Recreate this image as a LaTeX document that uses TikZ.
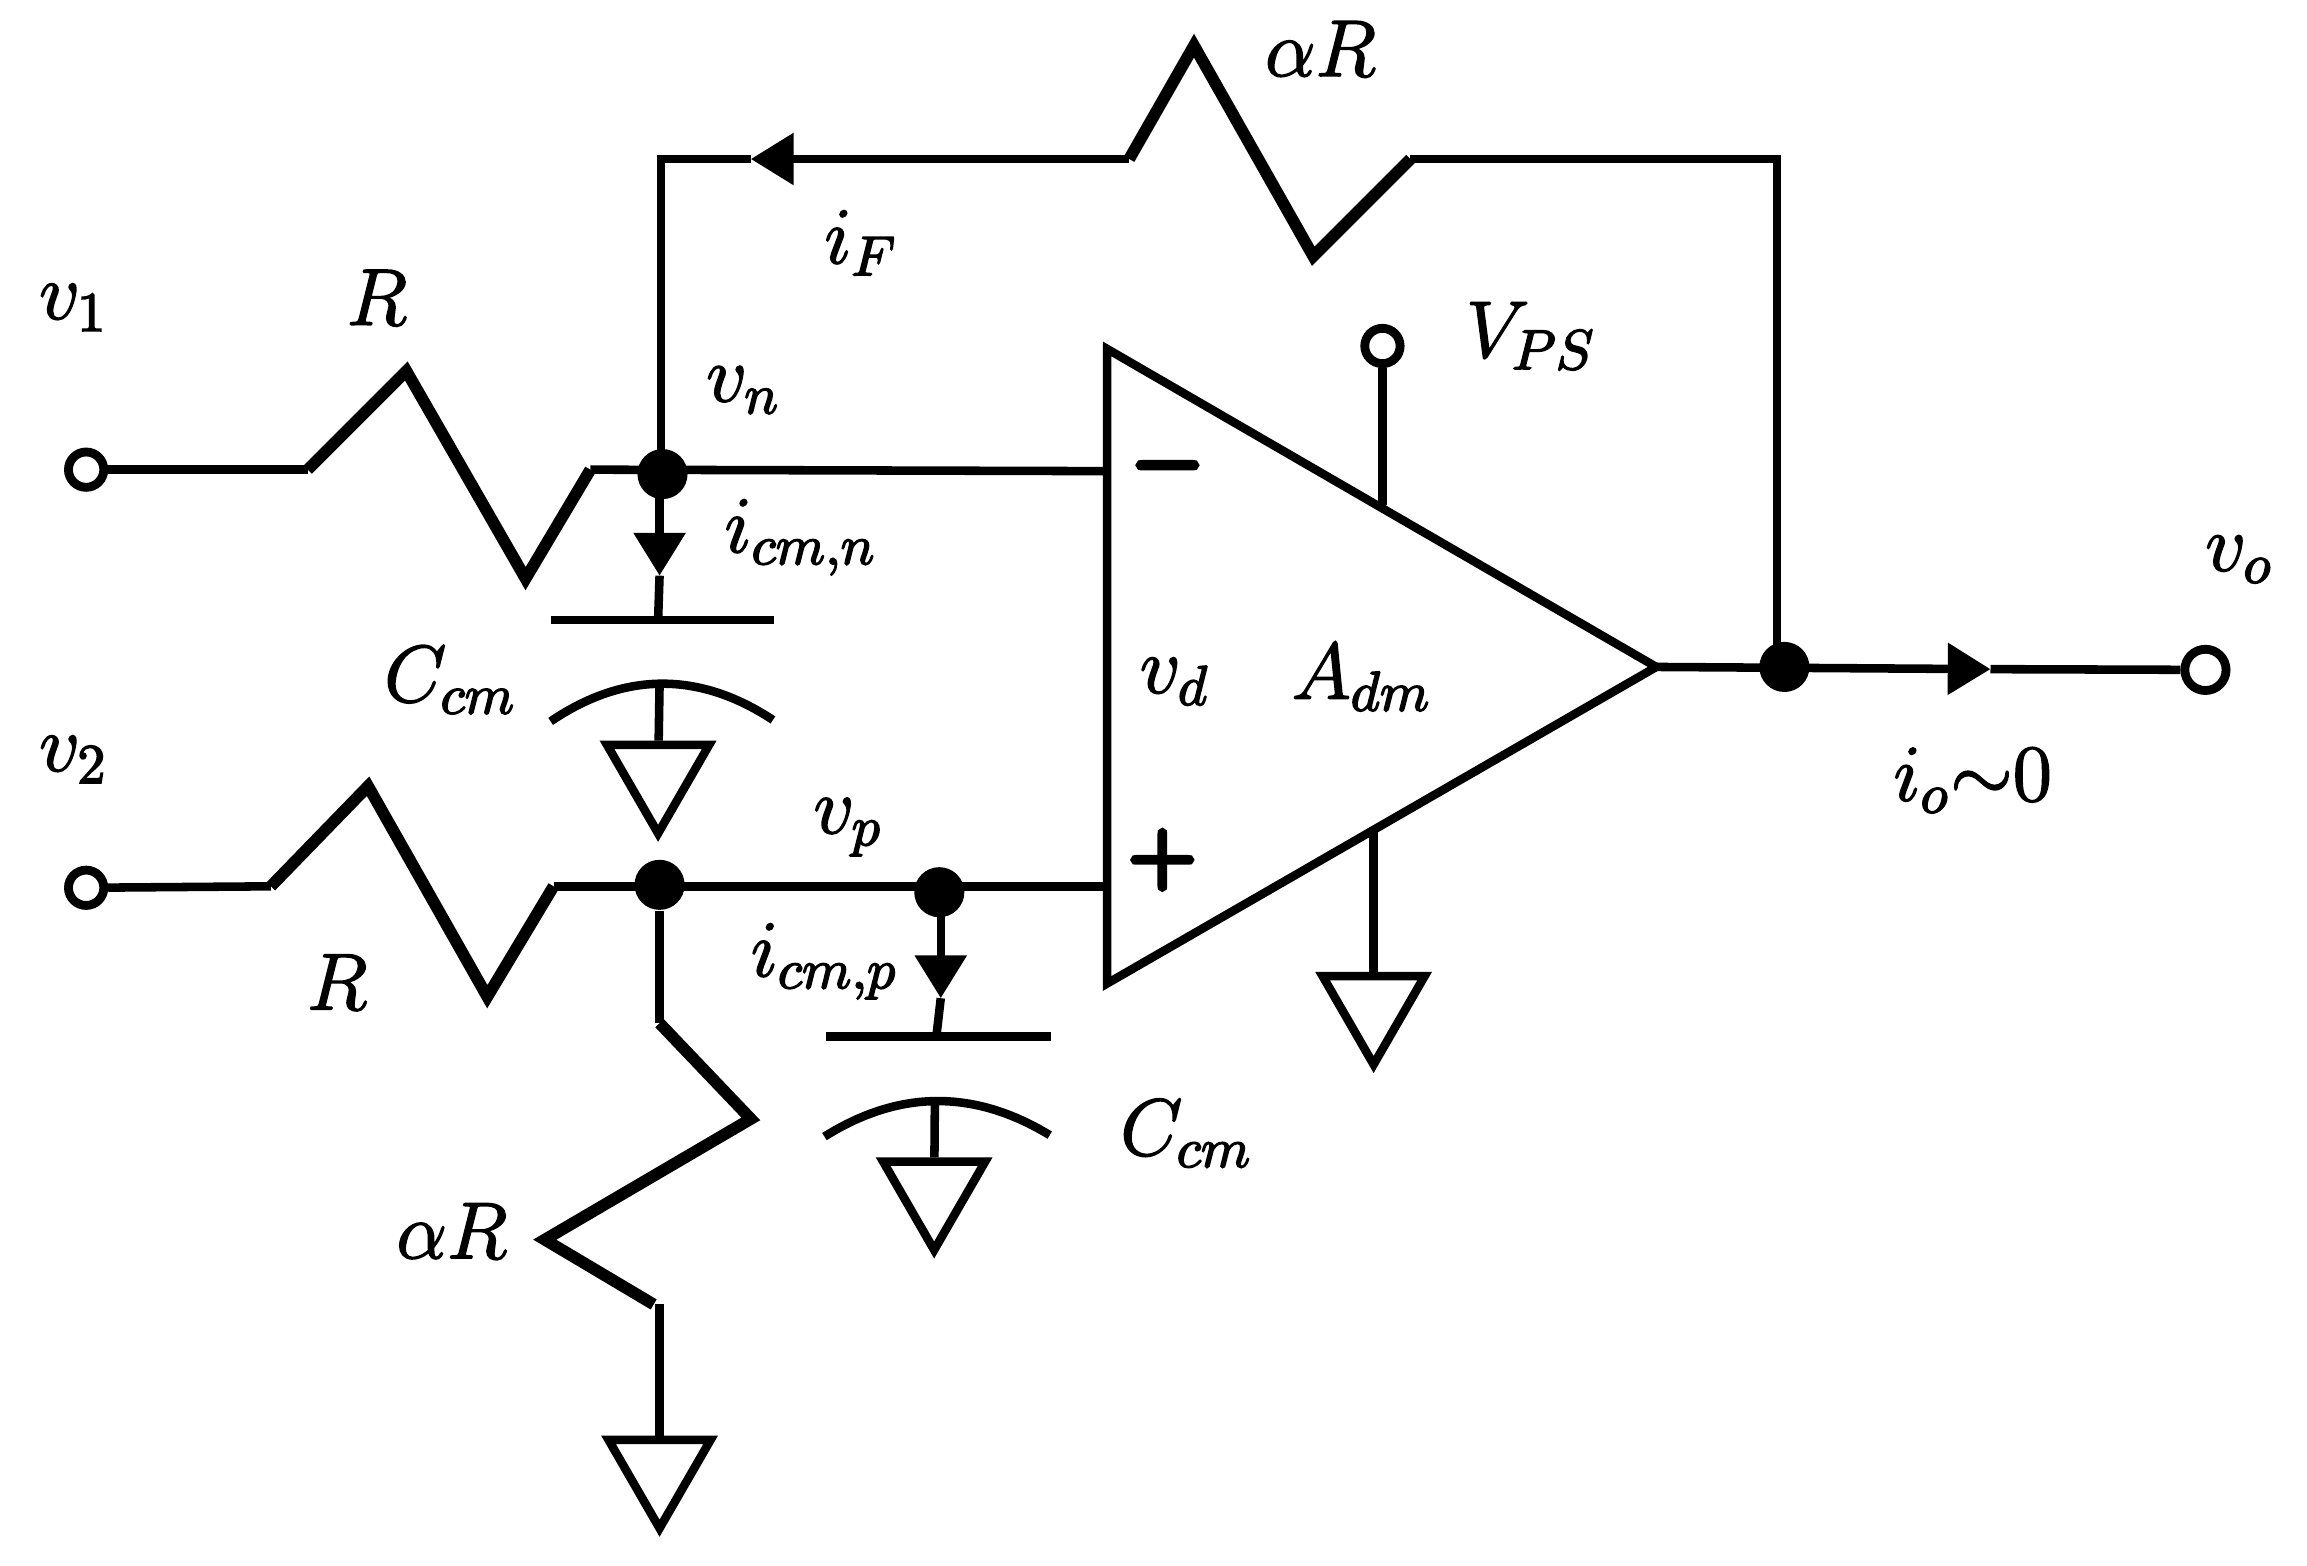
\RequirePackage{fix-cm}
\documentclass[tikz,border=0pt]{standalone}
\usetikzlibrary{shapes.geometric, arrows.meta}
\DeclareSymbolFont{boldsy}{OMS}{cmsy}{b}{n}
\DeclareSymbolFont{boldrm}{OT1}{cmr}{bx}{n}
\DeclareMathSymbol{\bminus}{\mathbin}{boldsy}{"00}
\DeclareMathSymbol{\bplus}{\mathbin}{boldrm}{`+}

\begin{document}
\begin{tikzpicture}[
  x=0.01cm, y=-0.01cm,
  wire/.style={line width=0.058cm, line join=miter},
  res/.style={line width=0.08cm, line join=miter},
  arrow/.style={wire, -{Triangle[length=0.29cm, width=0.34cm]}},
  term/.style={circle, draw, fill=white, line width=0.06cm, minimum size=0.24cm, inner sep=0pt},
  dot/.style={circle, fill=black, minimum size=0.34cm, inner sep=0pt},
  gnd/.style={regular polygon, regular polygon sides=3, shape border rotate=180, draw, line width=0.058cm, minimum size=0.8cm, inner sep=0pt},
  heavy/.style={execute at begin node={\special{pdf:code q 2 Tr #1 w}}, execute at end node={\special{pdf:code Q}}},
  lab/.style={font=\fontsize{15.5}{18}\selectfont, inner sep=0pt, heavy=0.3},
  sign/.style={inner sep=0pt, heavy=1.05}
]
\useasboundingbox (0,0) rectangle (1567,1063);

% Terminals and junctions
\node[term] (in1) at (58.5,319) {};
\node[term] (in2) at (58.5,603) {};
\node[term, minimum size=0.28cm] (out) at (1498,455) {};
\node[term] (vps) at (939,235) {};
\node[dot] (nodeN) at (450,322) {};
\node[dot] (nodeM) at (448,601) {};
\node[dot] (nodeP) at (638,606) {};
\node[dot] (nodeO) at (1212,453) {};

% Grounds
\node[gnd] (gndN) at (447,526) {};
\node[gnd] (gndP) at (634.5,809) {};
\node[gnd] (gndA) at (933,683) {};
\node[gnd] (gndR) at (448,998) {};

% Op amp
\coordinate (ampTop) at (752,237);
\coordinate (ampTip) at (1125,453);
\coordinate (ampBot) at (752,668);
\coordinate (ampN) at (752,320);
\coordinate (ampP) at (752,602);
\coordinate (ampS) at (939,343);
\coordinate (ampG) at (933,565);
\draw[wire] (ampTop) -- (ampTip) -- (ampBot) -- cycle;

% Input resistors
\coordinate (r1a) at (209,319);
\coordinate (r1b) at (401,319);
\coordinate (r2a) at (184,602);
\coordinate (r2b) at (376,602);
\draw[wire] (in1) -- (r1a);
\draw[res] (r1a) -- (276,252) -- (357,393) -- (r1b);
\draw[wire] (r1b) -- (ampN);
\draw[wire] (in2) -- (r2a);
\draw[res] (r2a) -- (250,534) -- (331,677) -- (r2b);
\draw[wire] (r2b) -- (ampP);

% Feedback
\coordinate (fbL) at (449,108);
\coordinate (fbHead) at (510,108);
\coordinate (fbA) at (767,108);
\coordinate (fbB) at (958,108);
\coordinate (fbR) at (1207,108);
\coordinate (fbO) at (1207,453);
\draw[wire] (fbL |- nodeN) -- (fbL) -- (fbHead);
\draw[arrow] (fbA) -- (fbHead);
\draw[res] (fbA) -- (811,31) -- (892,174) -- (fbB);
\draw[wire] (fbB) -- (fbR) -- (fbO);

% Output
\coordinate (outHead) at (1352,454.5);
\draw[arrow] (ampTip) -- (outHead);
\draw[wire] (outHead) -- (out);
\draw[wire] (vps) -- (ampS);
\draw[wire] (ampG) -- (gndA);

% Lower divider
\coordinate (r3a) at (448,695);
\coordinate (r3b) at (444,886);
\coordinate (r3c) at (448,886);
\draw[wire] (nodeM) -- (r3a);
\draw[res] (r3a) -- (510,760) -- (370,842) -- (r3b);
\draw[wire] (r3c) -- (gndR);

% Capacitors
\coordinate (capNt) at (448,330);
\coordinate (capNh) at (448,391);
\coordinate (capNm) at (447,421);
\coordinate (capNa) at (374,421);
\coordinate (capNb) at (526,421);
\coordinate (arcNa) at (374,490);
\coordinate (arcNb) at (525,489);
\coordinate (arcNm) at (448,465);
\draw[arrow] (capNt) -- (capNh);
\draw[wire] (capNh) -- (capNm);
\draw[wire] (capNa) -- (capNb);
\draw[wire] (arcNa) .. controls (424,456) and (475,456) .. (arcNb);
\draw[wire] (arcNm) -- (gndN);
\coordinate (capPt) at (639,612);
\coordinate (capPh) at (639,678);
\coordinate (capPm) at (636,704);
\coordinate (capPa) at (561,704);
\coordinate (capPb) at (714,704);
\coordinate (arcPa) at (560,772);
\coordinate (arcPb) at (713,771);
\coordinate (arcPm) at (635,748);
\draw[arrow] (capPt) -- (capPh);
\draw[wire] (capPh) -- (capPm);
\draw[wire] (capPa) -- (capPb);
\draw[wire] (arcPa) .. controls (611,740) and (662,740) .. (arcPb);
\draw[wire] (arcPm) -- (gndP);

% Labels
\node[lab] (lv1) at (50,209) {$v_1$};
\node[lab] (lv2) at (50,516) {$v_2$};
\node[lab] (lr1) at (256,202) {$R$};
\node[lab] (lr2) at (229,667) {$R$};
\node[lab] (lvn) at (505,265) {$v_n$};
\node[lab] (lvp) at (576,562) {$v_p$};
\node[lab] (lif) at (585,165) {$i_F$};
\node[lab] (lar) at (897,33) {$\alpha R$};
\node[lab] (lar2) at (307,836) {$\alpha R$};
\node[lab] (lvps) at (1040,228) {$V_{PS}$};
\node[lab] (licn) at (544,365) {$i_{cm,n}$};
\node[lab] (licp) at (560,653) {$i_{cm,p}$};
\node[lab] (lcn) at (306,462) {$C_{cm}$};
\node[lab] (lcp) at (806,770) {$C_{cm}$};
\node[lab] (lvd) at (798,463) {$v_d$};
\node[lab] (ladm) at (925,460) {$A_{dm}$};
\node[lab] (lio) at (1340,530) {$i_o{\sim}0$};
\node[lab] (lvo) at (1521,380) {$v_o$};
\node[sign, font=\fontsize{16}{18}\selectfont] (lminus) at (793,316) {$\bminus$};
\node[sign, font=\fontsize{15}{18}\selectfont] (lplus) at (789.5,584) {$\bplus$};

\end{tikzpicture}
\end{document}
